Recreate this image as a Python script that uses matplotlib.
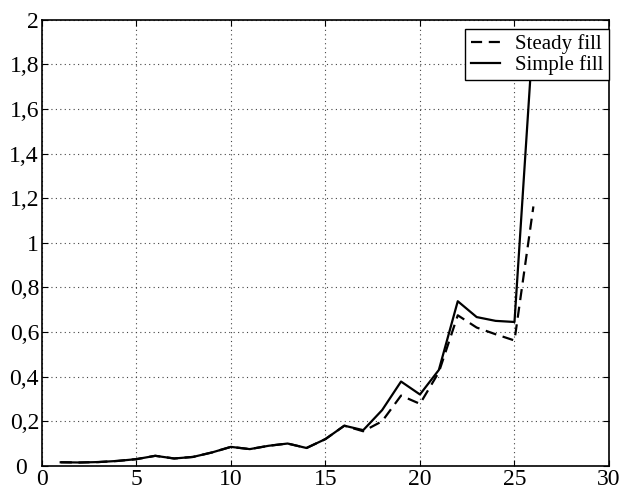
import numpy as np
from matplotlib import pyplot as plt
from matplotlib.ticker import FuncFormatter
from matplotlib.transforms import ScaledTranslation

plt.rcParams['font.family'] = ['Liberation Serif', 'DejaVu Serif']

x = list(range(1, 27))
simple_fill = [0.016, 0.015, 0.017, 0.022, 0.030, 0.045, 0.033, 0.040, 0.060, 0.085,
               0.075, 0.090, 0.100, 0.080, 0.120, 0.180, 0.160, 0.250, 0.378, 0.320,
               0.430, 0.738, 0.667, 0.650, 0.645, 1.950]
steady_fill = [0.016, 0.015, 0.017, 0.022, 0.030, 0.045, 0.033, 0.040, 0.060, 0.085,
               0.075, 0.090, 0.100, 0.080, 0.120, 0.180, 0.155, 0.200, 0.315, 0.278,
               0.420, 0.675, 0.620, 0.590, 0.562, 1.163]

fig = plt.figure(figsize=(6.24, 4.94), dpi=100)
ax = fig.add_axes([0.067, 0.057, 0.909, 0.903])

ax.plot(x, steady_fill, 'k--', lw=1.6, dashes=(5, 3), label='Steady fill')
ax.plot(x, simple_fill, 'k-', lw=1.6, label='Simple fill')

ax.set_xlim(0, 30)
ax.set_ylim(0, 2)
ax.set_xticks(np.arange(0, 31, 5))
ax.set_yticks(np.arange(0, 2.01, 0.2))

def comma(v, pos):
    s = ('%.1f' % v).rstrip('0').rstrip('.')
    return s.replace('.', ',')

ax.yaxis.set_major_formatter(FuncFormatter(comma))
ax.tick_params(direction='in', top=True, right=True, labelsize=17, length=4, pad=2)
ax.grid(True, linestyle=(0, (1, 3)), color='#444444', lw=0.8)
for s in ax.spines.values():
    s.set_linewidth(1.2)

# the y "0" sits a bit further left, clear of the x "0"
lab0 = ax.yaxis.get_major_ticks()[0].label1
lab0.set_transform(lab0.get_transform() + ScaledTranslation(-0.12, 0, fig.dpi_scale_trans))

leg = ax.legend(loc='upper right', bbox_to_anchor=(1.0, 1 - 9 / 446), borderaxespad=0,
                fontsize=15, fancybox=False, framealpha=1, edgecolor='black',
                borderpad=0.25, handlelength=1.4, labelspacing=0.05,
                handletextpad=0.75)
leg.get_frame().set_linewidth(1.0)

fig.savefig('out.png', dpi=100)
